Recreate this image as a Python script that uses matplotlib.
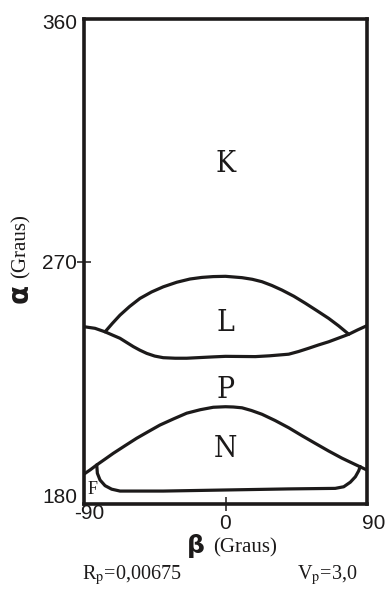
import matplotlib
matplotlib.use("Agg")
import matplotlib.pyplot as plt
import matplotlib.transforms as mtransforms

# boundary curves (beta, alpha in degrees)
l_arc_beta = [-76.6, -72, -67.1, -61, -54.4, -47, -39.6, -31, -22.6, -15, -7.8, 0,
              10.5, 17, 23.2, 29.5, 35.9, 43.5, 50.8, 58, 65.6, 72, 78.4]
l_arc_alpha = [243.9, 247.0, 250.1, 253.3, 256.3, 258.7, 260.6, 262.3, 263.5, 264.1, 264.4, 264.5,
               264.0, 263.4, 262.5, 261.1, 259.4, 257.1, 254.5, 251.8, 248.9, 246.1, 243.0]

l_low_beta = [-90, -83.0, -76.6, -71.5, -67.1, -63, -58.6, -54.5, -50.1, -45, -39.6, -32, -24.7,
              -7.8, 0, 19.0, 28, 40.2, 46.5, 52.9, 59, 65.6, 72, 78.4, 84, 90]
l_low_alpha = [245.8, 245.2, 243.9, 242.6, 241.5, 240.0, 238.4, 237.1, 235.9, 234.9, 234.3, 234.1, 234.1,
               234.6, 234.8, 234.7, 235.0, 235.6, 236.6, 237.8, 239.0, 240.2, 241.6, 243.0, 244.6, 246.2]

pn_beta = [-90, -86, -81.9, -76.5, -71.4, -64, -56.5, -49, -41.7, -33, -24.7, -16, -7.8, 0, 5,
           10.5, 16.5, 23.2, 31.5, 40.2, 48.5, 57.1, 65.5, 74.1, 82, 90]
pn_alpha = [191.1, 192.7, 194.5, 196.7, 198.8, 201.6, 204.4, 206.9, 209.3, 211.6, 213.7, 215.0, 215.9, 216.1, 216.0,
            215.7, 214.7, 213.3, 211.0, 208.3, 205.4, 202.5, 199.7, 197.0, 194.8, 192.6]

f_beta = [-81.9, -81.5, -79.8, -76.6, -72.4, -67.1, -39.6, 0, 40.2, 69.8, 75.2, 79.4, 82.6, 84.7, 85.7]
f_alpha = [194.5, 191.4, 188.9, 186.8, 185.5, 184.8, 184.8, 185.2, 185.6, 185.8, 186.4, 188.1, 190.1, 192.3, 193.9]

# region labels
region_names = ["K", "L", "P", "N"]
region_alpha = [306.2, 247.0, 222.3, 200.4]

x_ticks = [-90, 0, 90]
y_ticks = [180, 270, 360]
Rp = "0,00675"
Vp = "3,0"

ink = "#1c1a1a"
plt.rcParams["mathtext.fontset"] = "stix"

fig = plt.figure(figsize=(3.88, 5.92), dpi=100)
ax = fig.add_axes([84 / 388, 1 - 504 / 592, 283 / 388, 485 / 592])

for xs, ys in [(l_arc_beta, l_arc_alpha), (l_low_beta, l_low_alpha),
               (pn_beta, pn_alpha), (f_beta, f_alpha)]:
    ax.plot(xs, ys, color=ink, lw=2.3, solid_joinstyle="round", solid_capstyle="round")

for name, a in zip(region_names, region_alpha):
    ax.text(0, a, name, ha="center", va="center", fontsize=21.5,
            family="DejaVu Serif", fontstretch="condensed", color=ink)
ax.text(-84.6, 185.2, "F", ha="center", va="center", fontsize=13,
        family="Liberation Serif", color=ink)

ax.set_xlim(-90, 90)
ax.set_ylim(180, 360)
for s in ax.spines.values():
    s.set_linewidth(2.6)
    s.set_color(ink)

ax.set_xticks(x_ticks)
ax.set_xticklabels([str(v) for v in x_ticks])
ax.set_yticks(y_ticks)
ax.set_yticklabels([str(v) for v in y_ticks])
ax.tick_params(direction="inout", length=10, width=1.1, color=ink, labelsize=14)
ax.tick_params(axis="x", pad=2)
ax.tick_params(axis="y", pad=0)

for lab in ax.get_xticklabels() + ax.get_yticklabels():
    lab.set_family(["Liberation Sans Narrow", "Liberation Sans"])
    lab.set_fontsize(15)
    lab.set_color(ink)

# hide corner ticks
ax.xaxis.get_major_ticks()[0].tick1line.set_visible(False)
ax.xaxis.get_major_ticks()[2].tick1line.set_visible(False)
ax.yaxis.get_major_ticks()[0].tick1line.set_visible(False)
ax.yaxis.get_major_ticks()[2].tick1line.set_visible(False)

def shift(lab, dx, dy):
    off = mtransforms.ScaledTranslation(dx * 0.72 / 72, dy * 0.72 / 72, fig.dpi_scale_trans)
    lab.set_transform(lab.get_transform() + off)

xl = ax.get_xticklabels()
shift(xl[0], 5, 10)
shift(xl[2], 7, 0)
yl = ax.get_yticklabels()
shift(yl[0], 0, 8)
shift(yl[2], 0, -3)

# axis labels
fig.text(20 / 388, 1 - 293 / 592, "α", rotation=90, ha="center", va="center",
         fontsize=20, fontweight="bold", family="DejaVu Sans", color=ink)
fig.text(21 / 388, 1 - 246.5 / 592, "(Graus)", rotation=90, ha="center", va="center",
         fontsize=15, family="Liberation Serif", color=ink)
fig.text(196 / 388, 1 - 546 / 592, "β", ha="center", va="center",
         fontsize=18, fontweight="bold", family="DejaVu Sans", color=ink)
fig.text(245.5 / 388, 1 - 548 / 592, "(Graus)", ha="center", va="center",
         fontsize=15, family="Liberation Serif", color=ink)

fig.text(82 / 388, 1 - 575 / 592, r"R$_\mathrm{p}$=" + Rp, ha="left", va="center",
         fontsize=14.5, family="Liberation Serif", color=ink)
fig.text(297 / 388, 1 - 575 / 592, r"V$_\mathrm{p}$=" + Vp, ha="left", va="center",
         fontsize=14.5, family="Liberation Serif", color=ink)

fig.savefig("out.png", dpi=100)
